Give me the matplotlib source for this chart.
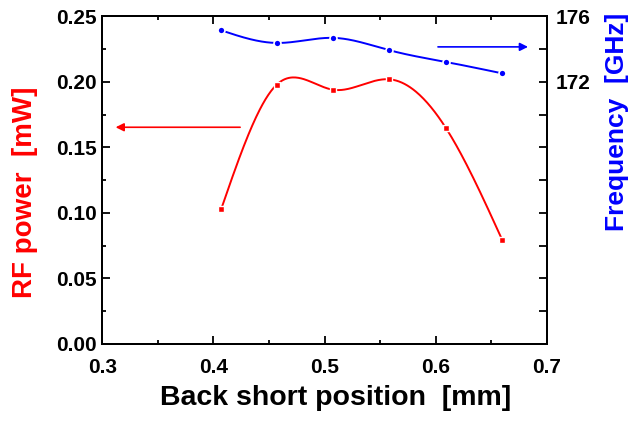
import numpy as np
import matplotlib
matplotlib.use("Agg")
import matplotlib.pyplot as plt
from matplotlib.ticker import MultipleLocator, FixedLocator, FuncFormatter

plt.rcParams["font.family"] = ["Liberation Sans", "DejaVu Sans"]
plt.rcParams["font.weight"] = "bold"

# back short position [mm]
position = [0.407, 0.457, 0.508, 0.558, 0.609, 0.660]
rf_power = [0.103, 0.198, 0.194, 0.202, 0.165, 0.079]          # mW
frequency = [175.15, 174.38, 174.69, 173.94, 173.22, 172.52]   # GHz
freq_labels = [172, 176]


def natural_spline(x, y, n=300):
    """Smooth curve through the points (natural cubic spline), like the Origin line."""
    x = np.asarray(x, float); y = np.asarray(y, float)
    k = len(x)
    h = np.diff(x)
    A = np.zeros((k, k)); b = np.zeros(k)
    A[0, 0] = A[-1, -1] = 1.0
    for i in range(1, k - 1):
        A[i, i - 1] = h[i - 1]
        A[i, i] = 2 * (h[i - 1] + h[i])
        A[i, i + 1] = h[i]
        b[i] = 6 * ((y[i + 1] - y[i]) / h[i] - (y[i] - y[i - 1]) / h[i - 1])
    M = np.linalg.solve(A, b)
    xs = np.linspace(x[0], x[-1], n)
    idx = np.clip(np.searchsorted(x, xs) - 1, 0, k - 2)
    x0, x1 = x[idx], x[idx + 1]
    hh = x1 - x0
    ys = (M[idx] * (x1 - xs) ** 3 / (6 * hh) + M[idx + 1] * (xs - x0) ** 3 / (6 * hh)
          + (y[idx] / hh - M[idx] * hh / 6) * (x1 - xs)
          + (y[idx + 1] / hh - M[idx + 1] * hh / 6) * (xs - x0))
    return xs, ys


RED = "#ff0000"
BLUE = "#0000ff"

fig = plt.figure(figsize=(6.33, 4.21), dpi=100)
ax = fig.add_axes([0.1616, 0.183, 0.7024, 0.778])
ax2 = ax.twinx()

xs, ys = natural_spline(position, rf_power)
ax.plot(xs, ys, color=RED, lw=1.4, zorder=2)
ax.plot(position, rf_power, "s", color=RED, ms=4, mec="white", mew=1.0, zorder=3)

xs, ys = natural_spline(position, frequency)
ax2.plot(xs, ys, color=BLUE, lw=1.4, zorder=2)
ax2.plot(position, frequency, "o", color=BLUE, ms=5, mec="white", mew=1.2, zorder=3)

# arrows pointing to the matching axis
ax.annotate("", xy=(0.312, 0.1654), xytext=(0.424, 0.1654),
            arrowprops=dict(arrowstyle="-|>", color=RED, lw=1.2,
                            mutation_scale=12, shrinkA=0, shrinkB=0))
ax2.annotate("", xy=(0.683, 174.14), xytext=(0.602, 174.14),
             arrowprops=dict(arrowstyle="-|>", color=BLUE, lw=1.2,
                             mutation_scale=12, shrinkA=0, shrinkB=0))

ax.set_xlim(0.3, 0.7)
ax.set_ylim(0, 0.25)
ax2.set_ylim(156, 176)

ax.xaxis.set_major_locator(MultipleLocator(0.1))
ax.xaxis.set_minor_locator(MultipleLocator(0.05))
ax.yaxis.set_major_locator(MultipleLocator(0.05))
ax.yaxis.set_minor_locator(MultipleLocator(0.025))
ax.xaxis.set_major_formatter(FuncFormatter(lambda v, p: f"{v:.1f}"))
ax.yaxis.set_major_formatter(FuncFormatter(lambda v, p: f"{v:.2f}"))

ax2.yaxis.set_major_locator(FixedLocator(np.arange(156, 177, 2)))
ax2.yaxis.set_major_formatter(FuncFormatter(
    lambda v, p: f"{int(round(v))}" if int(round(v)) in freq_labels else ""))

ax.tick_params(which="both", direction="in", top=True, right=False, width=1.3)
ax.tick_params(which="major", length=6, labelsize=15, pad=4)
ax.tick_params(which="minor", length=3)
ax.tick_params(axis="x", which="major", pad=10)
ax2.tick_params(which="major", direction="in", length=6, width=1.3, labelsize=15, pad=6)

for a in (ax, ax2):
    for s in a.spines.values():
        s.set_linewidth(1.4)

ax.set_xlabel("Back short position  [mm]", fontsize=20.5, fontweight="bold")
ax.xaxis.set_label_coords(0.5255, -0.125)
ax.set_ylabel("RF power  [mW]", fontsize=20, fontweight="bold", color=RED)
ax.yaxis.set_label_coords(-0.1446, 0.4626)
ax2.set_ylabel("Frequency  [GHz]", fontsize=19, fontweight="bold", color=BLUE)
ax2.yaxis.set_label_coords(1.130, 0.678)

fig.savefig("out.png", dpi=100)
